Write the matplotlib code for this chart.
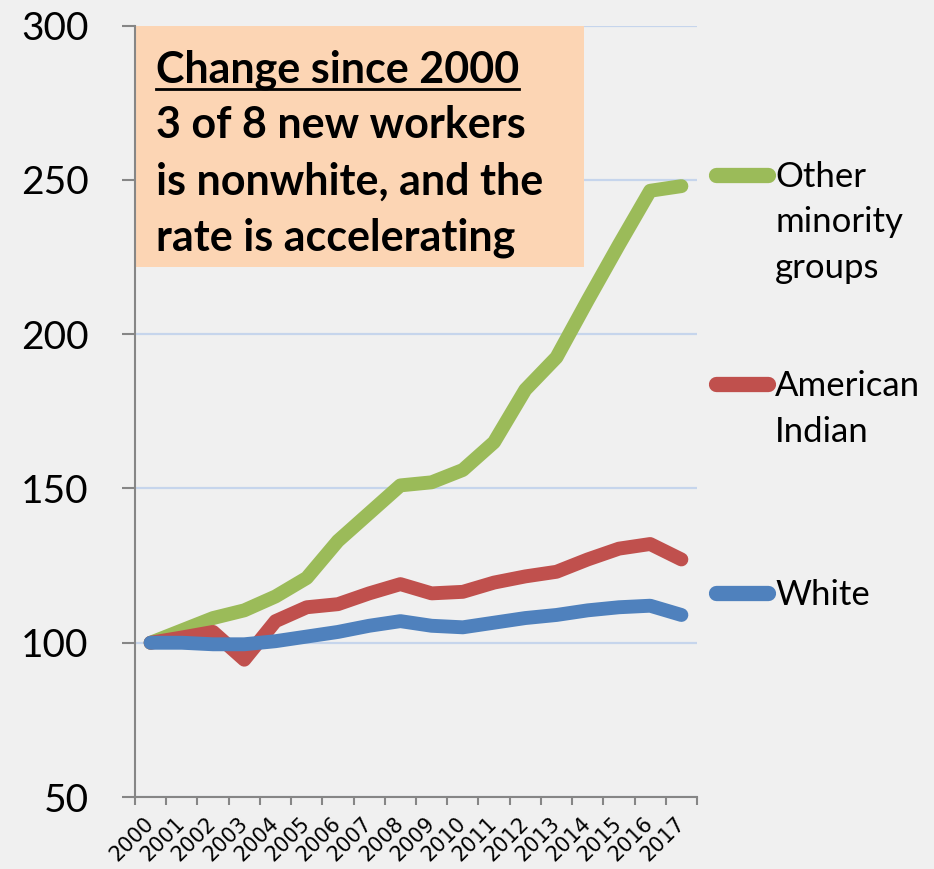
import matplotlib.pyplot as plt
import numpy as np
from matplotlib.lines import Line2D

years = [str(y) for y in range(2000, 2018)]
other_minority = [100, 104, 108, 110.5, 115, 121, 133, 142, 151, 152, 156, 165, 182, 192.5, 211, 229, 246.5, 248]
american_indian = [100, 101.7, 103.5, 94.5, 107, 111.5, 112.5, 116, 119, 116, 116.5, 119.5, 121.5, 123, 127, 130.5, 132, 127]
white = [100, 100, 99.5, 99.5, 100.5, 102, 103.5, 105.5, 107, 105.5, 105, 106.5, 108, 109, 110.5, 111.5, 112, 109]

series_names = ["Other\nminority\ngroups", "American\nIndian", "White"]
series_colors = ["#9BBB59", "#C0504D", "#4F81BD"]

box_lines = ["Change since 2000", "3 of 8 new workers",
             "is nonwhite, and the", "rate is accelerating"]

W, H = 934, 869
BG = "#F0F0F0"
FONT = "Lato"

fig = plt.figure(figsize=(W / 100, H / 100), dpi=100)
fig.patch.set_facecolor(BG)

# axes box in pixels: x 135..697, y 25.7..797
ax_l, ax_r, ax_t, ax_b = 135, 697, 25.7, 797
ax = fig.add_axes([ax_l / W, 1 - ax_b / H, (ax_r - ax_l) / W, (ax_b - ax_t) / H])
ax.set_facecolor(BG)


def ax_xy(px, py):
    # pixel position in the picture -> axes fraction
    return (px - ax_l) / (ax_r - ax_l), (ax_b - py) / (ax_b - ax_t)


x = np.arange(len(years))
for vals, col in zip([other_minority, american_indian, white], series_colors):
    ax.plot(x, vals, color=col, lw=10, solid_capstyle="round",
            solid_joinstyle="round", zorder=3)

ax.set_xlim(-0.5, len(years) - 0.5)
ax.set_ylim(50, 300)

# y axis
ax.set_yticks(range(50, 301, 50))
ax.tick_params(axis="y", length=9.5, width=1.5, color="#868686", pad=24)
for lab in ax.get_yticklabels():
    lab.set_fontfamily(FONT)
    lab.set_fontsize(28)

ax.yaxis.grid(True, color="#C6D5EC", lw=1.6, zorder=0)
ax.set_axisbelow(True)

# x axis: labels at category centres, tick marks between them
ax.set_xticks(x)
ax.set_xticklabels(years, rotation=45, ha="right", va="center",
                   rotation_mode="anchor", fontfamily="DejaVu Sans", fontsize=15)
ax.tick_params(axis="x", which="major", length=0, pad=17)
ax.set_xticks(np.arange(-0.5, len(years)), minor=True)
ax.tick_params(axis="x", which="minor", length=6, width=1.5, color="#868686")

for s in ["top", "right"]:
    ax.spines[s].set_visible(False)
for s in ["left", "bottom"]:
    ax.spines[s].set_color("#868686")
    ax.spines[s].set_linewidth(1.5)
    ax.spines[s].set_zorder(4)

# peach text box
bx0, by0 = ax_xy(136, 267)
bx1, by1 = ax_xy(584, 26)
ax.add_patch(plt.Rectangle((bx0, by0), bx1 - bx0, by1 - by0,
                           transform=ax.transAxes, facecolor="#FCD5B4",
                           edgecolor="none", zorder=2))
baselines = [82, 138, 195, 250]
texts = []
for line, yb in zip(box_lines, baselines):
    tx, ty = ax_xy(156, yb)
    t = ax.text(tx, ty, line, transform=ax.transAxes, fontfamily=FONT,
                fontweight="bold", fontsize=31, va="baseline", ha="left",
                zorder=5)
    texts.append(t)

# underline for the first line
fig.canvas.draw()
bb = texts[0].get_window_extent(renderer=fig.canvas.get_renderer())
uy = H - 89
fig.add_artist(Line2D([bb.x0 / W, bb.x1 / W], [uy / H, uy / H],
                      transform=fig.transFigure, color="black", lw=2))

# legend on the right, handle aligned with the first line of each label
legend_y = [175, 384, 593]
for name, col, hy in zip(series_names, series_colors, legend_y):
    hx0, hyf = ax_xy(716, hy)
    hx1, _ = ax_xy(768, hy)
    ax.add_line(Line2D([hx0, hx1], [hyf, hyf], transform=ax.transAxes,
                       color=col, lw=11, solid_capstyle="round",
                       clip_on=False))
    for i, part in enumerate(name.split("\n")):
        tx, ty = ax_xy(775, hy + 12 + 45.5 * i)
        ax.text(tx, ty, part, transform=ax.transAxes, fontfamily=FONT,
                fontsize=25, va="baseline", ha="left", clip_on=False)

fig.savefig("out.png", dpi=100, facecolor=BG)
